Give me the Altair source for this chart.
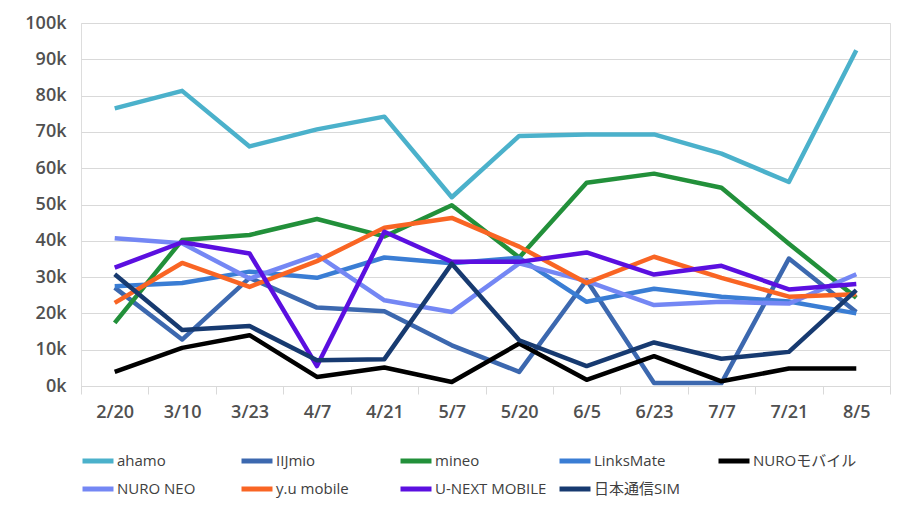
import altair as alt
import pandas as pd

dates = ["2/20", "3/10", "3/23", "4/7", "4/21", "5/7", "5/20", "6/5", "6/23", "7/7", "7/21", "8/5"]

series_names = ["ahamo", "IIJmio", "mineo", "LinksMate", "NUROモバイル",
                "NURO NEO", "y.u mobile", "U-NEXT MOBILE", "日本通信SIM"]

# values in thousands
ahamo = [76.5, 81.3, 66.0, 70.7, 74.2, 52.0, 68.9, 69.3, 69.3, 64.0, 56.2, 92.5]
iijmio = [27.1, 12.8, 29.8, 21.6, 20.6, 11.2, 3.9, 29.2, 0.8, 0.8, 35.1, 20.4]
mineo = [17.4, 40.2, 41.6, 46.0, 41.2, 49.8, 35.4, 56.0, 58.5, 54.6, 39.2, 24.3]
linksmate = [27.5, 28.4, 31.5, 29.8, 35.4, 33.8, 35.3, 23.2, 26.8, 24.6, 23.3, 20.0]
nuro_mobile = [3.9, 10.5, 14.0, 2.5, 5.1, 1.1, 11.7, 1.7, 8.2, 1.3, 4.8, 4.8]
nuro_neo = [40.7, 39.3, 29.6, 36.1, 23.6, 20.4, 33.8, 28.9, 22.3, 23.2, 22.7, 30.8]
yu_mobile = [22.9, 33.9, 27.3, 34.4, 43.6, 46.3, 38.4, 28.4, 35.6, 29.8, 24.6, 25.3]
unext = [32.6, 39.6, 36.5, 5.5, 42.5, 34.2, 34.2, 36.8, 30.7, 33.1, 26.6, 28.1]
nihon_tsushin = [30.8, 15.4, 16.5, 7.1, 7.4, 33.7, 12.6, 5.5, 12.0, 7.5, 9.4, 26.4]

colors = ["#4BB1CB", "#3C68AF", "#22903A", "#3A7DD4", "#000000",
          "#7487F4", "#F96524", "#5B0FE0", "#173A70"]

y_ticks = [0, 10, 20, 30, 40, 50, 60, 70, 80, 90, 100]

all_values = [ahamo, iijmio, mineo, linksmate, nuro_mobile,
              nuro_neo, yu_mobile, unext, nihon_tsushin]

rows = []
for si, (name, vals) in enumerate(zip(series_names, all_values)):
    for di, (d, v) in enumerate(zip(dates, vals)):
        rows.append({"date": d, "series": name, "value": v, "order": si})
df = pd.DataFrame(rows)

FONT = "Open Sans, Noto Sans CJK JP, sans-serif"

chart = alt.Chart(df).mark_line(strokeWidth=4.5, strokeJoin="round").encode(
    x=alt.X("date:N", sort=dates,
            scale=alt.Scale(paddingInner=0, paddingOuter=0),
            axis=alt.Axis(title=None, labelAngle=0, tickBand="extent",
                          ticks=True, tickSize=8, tickColor="#d9d9d9",
                          domain=True, domainColor="#d9d9d9",
                          grid=False, labelFontSize=18, labelColor="#505050",
                          labelFontWeight=600,
                          labelPadding=9, labelFont=FONT)),
    y=alt.Y("value:Q",
            scale=alt.Scale(domain=[0, 100], nice=False),
            axis=alt.Axis(title=None, values=y_ticks, ticks=False, domain=False,
                          gridColor="#d9d9d9", gridWidth=1,
                          labelExpr="datum.value + 'k'",
                          labelFontSize=18, labelColor="#505050",
                          labelFontWeight=600,
                          labelPadding=15, labelFont=FONT)),
    color=alt.Color("series:N",
                    scale=alt.Scale(domain=series_names, range=colors),
                    legend=alt.Legend(title=None, orient="none",
                                      legendX=-1, legendY=420,
                                      direction="horizontal", columns=5,
                                      gridAlign="all",
                                      symbolType="stroke", symbolSize=961,
                                      symbolStrokeWidth=5,
                                      labelFontSize=15, labelColor="#404040",
                                      labelFont=FONT, labelOffset=1,
                                      columnPadding=2, rowPadding=0,
                                      padding=0, labelLimit=300)),
    order=alt.Order("order:Q"),
).properties(
    width=809, height=363,
    autosize=alt.AutoSizeParams(type="none"),
    padding={"left": 73, "top": 15, "right": 8, "bottom": 120},
).configure_view(stroke=None).configure(background="white")

chart.save("out.html", embed_options={"renderer": "svg", "actions": False})
